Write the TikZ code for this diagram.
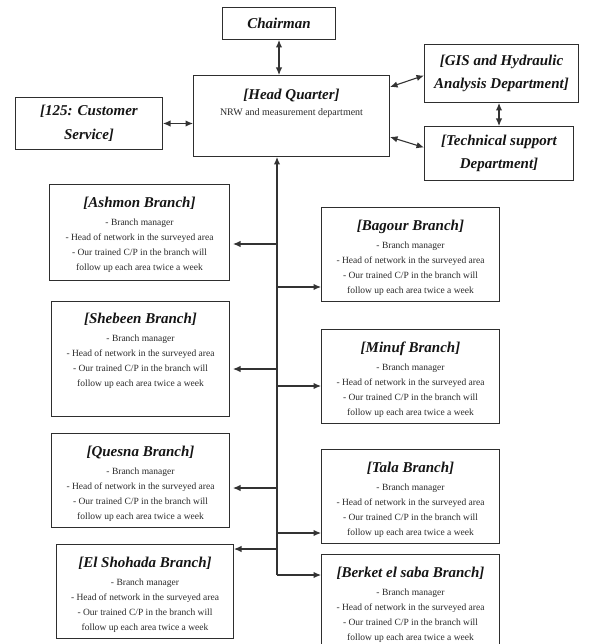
\documentclass[tikz,border=0pt]{standalone}
\usepackage{fontspec}
\setmainfont{Liberation Serif}
\usetikzlibrary{arrows.meta}
\definecolor{boxc}{HTML}{2E2E2E}
\definecolor{linec}{HTML}{333333}
\definecolor{txtc}{HTML}{151515}
\definecolor{bodyc}{HTML}{2A2A2A}
\newcommand{\ttlf}{\fontsize{15}{23.5}\selectfont\bfseries\itshape}
\newcommand{\brbody}[1]{{\ttlf\color{txtc}[#1 Branch]}\\[3pt]- Branch manager\\- Head of network in the surveyed area\\- Our trained C/P in the branch will\\follow up each area twice a week}
\tikzset{
  bx/.style={draw=boxc, line width=1pt, inner sep=0pt, anchor=north west, fill=white},
  tt/.style={font=\ttlf, align=center, text=txtc},
  bt/.style={font=\fontsize{9.5}{15}\selectfont, align=center, text=bodyc, inner sep=0pt, anchor=north},
  dbl/.style={{Latex[length=7.5pt,width=6.5pt]}-{Latex[length=7.5pt,width=6.5pt]}, line width=1.1pt, draw=linec},
  arr/.style={-{Latex[length=7.5pt,width=6.5pt]}, line width=1.1pt, draw=linec},
}
\begin{document}
\begin{tikzpicture}[x=1pt,y=-1pt]
\useasboundingbox (0,0) rectangle (592,644);
% top boxes
\node[bx, tt, minimum width=113pt, minimum height=32pt] (chair) at (222,7) {Chairman};
\node[bx, minimum width=196pt, minimum height=81pt] (hq) at (193,75) {};
\node[bt, font=\fontsize{10}{15}\selectfont] (hqT) at ([yshift=-13.5pt]hq.north) {{\ttlf\color{txtc}[Head Quarter]}\\[1pt]NRW and measurement department};
\node[bx, tt, minimum width=147pt, minimum height=52pt] (cust) at (15,97) {[125: Customer\\Service]};
\node[bx, tt, minimum width=154pt, minimum height=58pt] (gis) at (424,44) {[GIS and Hydraulic\\Analysis Department]};
\node[bx, tt, minimum width=149pt, minimum height=54pt] (tech) at (424,126) {[Technical support\\Department]};
% branch boxes
\node[bx, minimum width=180pt, minimum height=96pt] (ashmon) at (49,184) {};
\node[bx, minimum width=178pt, minimum height=94pt] (bagour) at (321,207) {};
\node[bx, minimum width=178pt, minimum height=115pt] (shebeen) at (51,301) {};
\node[bx, minimum width=178pt, minimum height=94pt] (minuf) at (321,329) {};
\node[bx, minimum width=178pt, minimum height=94pt] (quesna) at (51,433) {};
\node[bx, minimum width=178pt, minimum height=94pt] (tala) at (321,449) {};
\node[bx, minimum width=177pt, minimum height=94pt] (shohada) at (56,544) {};
\node[bx, minimum width=178pt, minimum height=94pt] (berket) at (321,554) {};
\node[bt] (ashmonT) at ([yshift=-12.5pt]ashmon.north) {\brbody{Ashmon}};
\node[bt] (bagourT) at ([yshift=-12.5pt]bagour.north) {\brbody{Bagour}};
\node[bt] (shebeenT) at ([yshift=-12pt]shebeen.north) {\brbody{Shebeen}};
\node[bt] (minufT) at ([yshift=-12.5pt]minuf.north) {\brbody{Minuf}};
\node[bt] (quesnaT) at ([yshift=-12.5pt]quesna.north) {\brbody{Quesna}};
\node[bt] (talaT) at ([yshift=-12.5pt]tala.north) {\brbody{Tala}};
\node[bt] (shohadaT) at ([yshift=-12.5pt]shohada.north) {\brbody{El Shohada}};
\node[bt] (berketT) at ([yshift=-12.5pt]berket.north) {\brbody{Berket el saba}};
% top connectors
\draw[dbl] (chair.south) -- (chair.south |- hq.north);
\draw[dbl] (cust.east) -- (cust.east -| hq.west);
\draw[dbl] ([yshift=-12pt]hq.north east) -- ([yshift=-2pt]gis.west);
\draw[dbl] ([yshift=20pt]hq.south east) -- ([yshift=6pt]tech.west);
\draw[dbl] (tech.north) -- (tech.north |- gis.south);
% trunk
\coordinate (tend) at (277,575);
\draw[arr] (tend) -- (tend |- hq.south);
\coordinate (jash) at (277,244);
\coordinate (jbag) at (277,287);
\coordinate (jshe) at (277,369);
\coordinate (jmin) at (277,386);
\coordinate (jque) at (277,488);
\coordinate (jtal) at (277,533);
\coordinate (jsho) at (277,549);
\draw[arr] (jash) -- ([xshift=3pt]jash -| ashmon.east);
\draw[arr] (jbag) -- (jbag -| bagour.west);
\draw[arr] (jshe) -- ([xshift=3pt]jshe -| shebeen.east);
\draw[arr] (jmin) -- (jmin -| minuf.west);
\draw[arr] (jque) -- ([xshift=3pt]jque -| quesna.east);
\draw[arr] (jtal) -- (jtal -| tala.west);
\draw[arr] (jsho) -- (jsho -| shohada.east);
\draw[arr] (tend) -- (tend -| berket.west);
\end{tikzpicture}
\end{document}
